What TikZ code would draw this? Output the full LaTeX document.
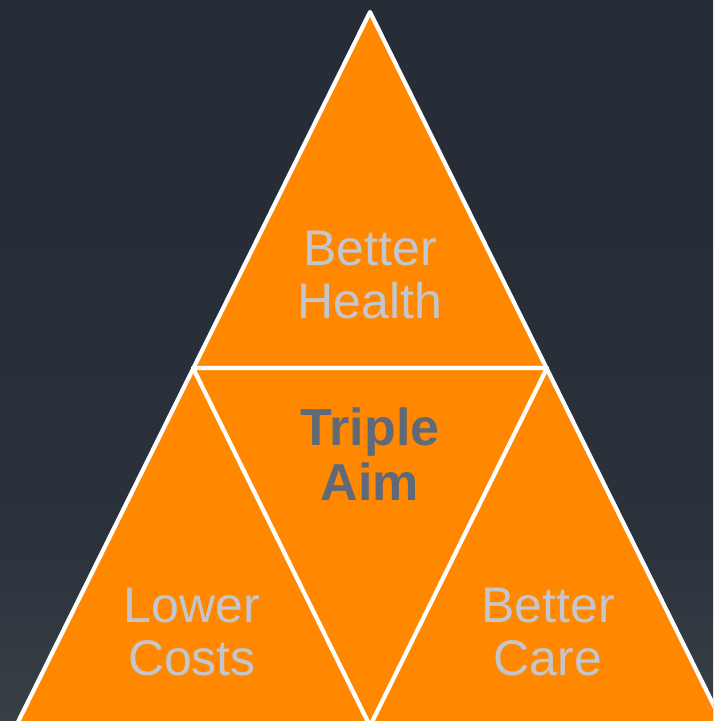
\documentclass[tikz,border=0pt]{standalone}
\usepackage{fontspec}
\setmainfont{Liberation Sans}
\definecolor{bgtop}{HTML}{262D36}
\definecolor{bgmid}{HTML}{2B323B}
\definecolor{bglow}{HTML}{40484F}
\definecolor{bgbot}{HTML}{4A525B}
\definecolor{tri}{HTML}{FF8800}
\definecolor{lbl}{HTML}{C4C6CE}
\definecolor{aim}{HTML}{5F6978}
\pgfdeclareverticalshading{bgshade}{100bp}{color(0bp)=(bgbot); color(16.8bp)=(bglow); color(37.6bp)=(bgmid); color(60bp)=(bgtop); color(100bp)=(bgtop)}
\begin{document}
\begin{tikzpicture}[x=1pt,y=-1pt,
  edge/.style={draw=white,line width=4.2pt,line join=round},
  lab/.style={text=lbl,align=center,font=\fontsize{50}{53}\selectfont,inner sep=0pt,anchor=base},
  aimlab/.style={text=aim,align=center,font=\fontsize{52}{55}\selectfont\bfseries,inner sep=0pt,anchor=base}]
\useasboundingbox (0,0) rectangle (713,721);
\shade[shading=bgshade] (0,0) rectangle (713,721);
\coordinate (A) at (370,12);
\coordinate (L) at (16,726);
\coordinate (R) at (724,726);
\coordinate (ML) at (193,368);
\coordinate (MR) at (547,368);
\coordinate (MB) at (370,726);
\begin{scope}
\clip (0,0) rectangle (713,721);
\fill[tri] (A) -- (R) -- (L) -- cycle;
\draw[edge] (A) -- (R) -- (L) -- cycle;
\draw[edge] (ML) -- (MR) -- (MB) -- cycle;
\end{scope}
\node[lab] (health) at (370,318) {Better\\Health};
\node[aimlab] (aim) at (370,500) {Triple\\Aim};
\node[lab] (costs) at (192,675) {Lower\\Costs};
\node[lab] (care) at (548,675) {Better\\Care};
\end{tikzpicture}
\end{document}
